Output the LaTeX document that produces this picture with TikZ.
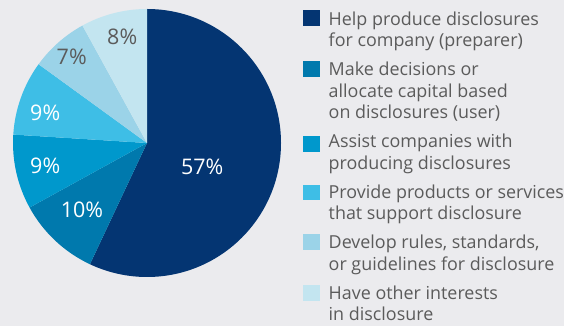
\documentclass[tikz,border=0pt]{standalone}
\usepackage{xcolor}
\usepackage{fontspec}
\setmainfont{Open Sans}
\definecolor{bgray}{HTML}{EBEBEE}
\definecolor{tgray}{HTML}{5B5B5B}
\definecolor{cA}{HTML}{043572}
\definecolor{cB}{HTML}{0079AD}
\definecolor{cC}{HTML}{0098CC}
\definecolor{cD}{HTML}{3EBEE6}
\definecolor{cE}{HTML}{9BD3E8}
\definecolor{cF}{HTML}{C3E5F0}

\begin{document}
\begin{tikzpicture}[x=1pt,y=1pt,
  pct/.style={inner sep=0pt,font=\fontsize{21.5}{24}\selectfont},
  keybox/.style={inner sep=0pt,minimum width=16.5pt,minimum height=15.7pt},
  keytext/.style={anchor=base west,inner sep=0pt,align=left,text=tgray,
    font=\fontsize{17.9}{21.3}\selectfont}]
\useasboundingbox (0,0) rectangle (564,326);
\fill[bgray] (0,0) rectangle (564,326);

\coordinate (c) at (147,183);
\fill[cA] (c) -- ++(90:134) arc[start angle=90,end angle=-115.2,radius=134pt] -- cycle;
\fill[cB] (c) -- ++(-115.2:134) arc[start angle=-115.2,end angle=-151.2,radius=134pt] -- cycle;
\fill[cC] (c) -- ++(-151.2:134) arc[start angle=-151.2,end angle=-183.6,radius=134pt] -- cycle;
\fill[cD] (c) -- ++(-183.6:134) arc[start angle=-183.6,end angle=-216,radius=134pt] -- cycle;
\fill[cE] (c) -- ++(-216:134) arc[start angle=-216,end angle=-241.2,radius=134pt] -- cycle;
\fill[cF] (c) -- ++(-241.2:134) arc[start angle=-241.2,end angle=-270,radius=134pt] -- cycle;

\node[pct,text=white] (pA) at (202.2,158.8) {57\%};
\node[pct,text=white] (pB) at (82,116.5) {10\%};
\node[pct,text=white] (pC) at (45.2,160.2) {9\%};
\node[pct,text=white] (pD) at (45.2,213.5) {9\%};
\node[pct,text=tgray] (pE) at (71.7,268.8) {7\%};
\node[pct,text=tgray] (pF) at (122.2,289.2) {8\%};

\node[keybox,fill=cA] (kA) at (311.7,307.8) {};
\node[keybox,fill=cB] (kB) at (311.7,257.1) {};
\node[keybox,fill=cC] (kC) at (311.7,182.1) {};
\node[keybox,fill=cD] (kD) at (311.7,133.5) {};
\node[keybox,fill=cE] (kE) at (311.7,83.8) {};
\node[keybox,fill=cF] (kF) at (311.7,33.1) {};

% legend texts, placed by the baseline of their last line
\node[keytext] (tA) at (328.5,279) {Help produce disclosures\\for company (preparer)};
\node[keytext] (tB) at (328.5,207.4) {Make decisions or\\allocate capital based\\on disclosures (user)};
\node[keytext] (tC) at (328.5,156.7) {Assist companies with\\producing disclosures};
\node[keytext] (tD) at (328.5,106.2) {Provide products or services\\that support disclosure};
\node[keytext] (tE) at (328.5,55.7) {Develop rules, standards,\\or guidelines for disclosure};
\node[keytext] (tF) at (328.5,5.2) {Have other interests\\in disclosure};
\end{tikzpicture}
\end{document}
